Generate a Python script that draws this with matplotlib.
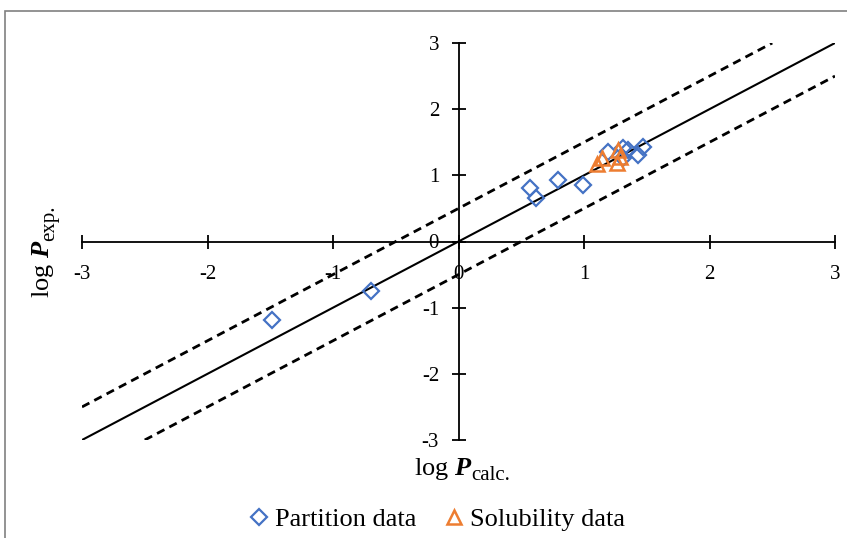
import matplotlib
matplotlib.use("Agg")
import matplotlib.pyplot as plt
from matplotlib.patches import Rectangle
import numpy as np

plt.rcParams['font.family'] = ['Liberation Serif', 'DejaVu Serif']
plt.rcParams['mathtext.fontset'] = 'custom'
plt.rcParams['mathtext.rm'] = 'Liberation Serif'
plt.rcParams['mathtext.it'] = 'Liberation Serif:italic:bold'
plt.rcParams['mathtext.bf'] = 'Liberation Serif:bold'

# Data
partition_x = [-1.49, -0.70, 0.57, 0.62, 0.79, 0.99, 1.19, 1.31, 1.35, 1.31, 1.43, 1.47]
partition_y = [-1.19, -0.75, 0.81, 0.66, 0.93, 0.85, 1.36, 1.41, 1.38, 1.26, 1.31, 1.43]
solubility_x = [1.10, 1.14, 1.27, 1.26, 1.29]
solubility_y = [1.17, 1.26, 1.38, 1.18, 1.28]
line_x = [-3, 3]
upper_x = [-3, 2.5]
lower_x = [-2.5, 3]
offset = 0.5
ticks = [-3, -2, -1, 0, 1, 2, 3]

W, H = 847, 538
fig = plt.figure(figsize=(W / 100, H / 100), dpi=100)
ax = fig.add_axes([82/W, 1-440/H, (835-82)/W, (440-43)/H])

ax.plot(line_x, line_x, color='black', lw=1.5)
ax.plot(upper_x, np.array(upper_x) + offset, color='black', lw=2, ls=(0, (3, 2)))
ax.plot(lower_x, np.array(lower_x) - offset, color='black', lw=2, ls=(0, (3, 2)))

ax.plot(partition_x, partition_y, ls='none', marker='D', ms=8.5, mfc='none',
        mec='#4472C4', mew=1.6, label='Partition data')
ax.plot(solubility_x, solubility_y, ls='none', marker='^', ms=10, mfc='none',
        mec='#ED7D31', mew=1.8, label='Solubility data')

ax.set_xlim(-3, 3)
ax.set_ylim(-3, 3)
for s in ['top', 'right']:
    ax.spines[s].set_visible(False)
ax.spines['left'].set_position(('data', 0))
ax.spines['bottom'].set_position(('data', 0))
ax.spines['left'].set_linewidth(1.3)
ax.spines['bottom'].set_linewidth(1.3)
ax.set_xticks(ticks)
ax.set_yticks(ticks)
ax.set_xticklabels([str(t) for t in ticks])
ax.set_yticklabels([str(t) for t in ticks])
ax.tick_params(direction='inout', length=10, width=1.3, labelsize=15)
ax.tick_params(axis='x', pad=12)
ax.tick_params(axis='y', pad=9)

renderer = fig.canvas.get_renderer()
main_fs, sub_fs = 19, 15

# x axis title: "log P" + subscript
xt = fig.text(0, 0, r'log $P$', fontsize=main_fs, ha='left', va='baseline')
xs = fig.text(0, 0, 'calc.', fontsize=sub_fs, ha='left', va='baseline')
wm = xt.get_window_extent(renderer).width
ws = xs.get_window_extent(renderer).width
x0 = 463 - (wm + ws) / 2
xt.set_position((x0 / W, 1 - 475 / H))
xs.set_position(((x0 + wm - 2) / W, 1 - 480 / H))

# y axis title (rotated)
yt = fig.text(0, 0, r'log $P$', fontsize=main_fs, ha='left', va='baseline',
              rotation=90, rotation_mode='anchor')
ys = fig.text(0, 0, 'exp.', fontsize=sub_fs, ha='left', va='baseline',
              rotation=90, rotation_mode='anchor')
hm = yt.get_window_extent(renderer).height
hs = ys.get_window_extent(renderer).height
yc = 251
ybot = yc + (hm + hs) / 2
yt.set_position((49 / W, 1 - ybot / H))
ys.set_position((54 / W, 1 - (ybot - hm + 2) / H))

handles, labels = ax.get_legend_handles_labels()
fig.legend(handles, labels, loc='center', bbox_to_anchor=(0.515, 1-519/H), ncol=2,
           frameon=False, fontsize=19, handletextpad=0.15, columnspacing=1.0,
           handlelength=0.9, markerscale=1.0)

fig.patches.append(Rectangle((5/W, -0.1), 1.2, 1.1 - 11/H, transform=fig.transFigure,
                             fill=False, edgecolor='#808080', lw=1.2))

fig.savefig('out.png', dpi=100)
